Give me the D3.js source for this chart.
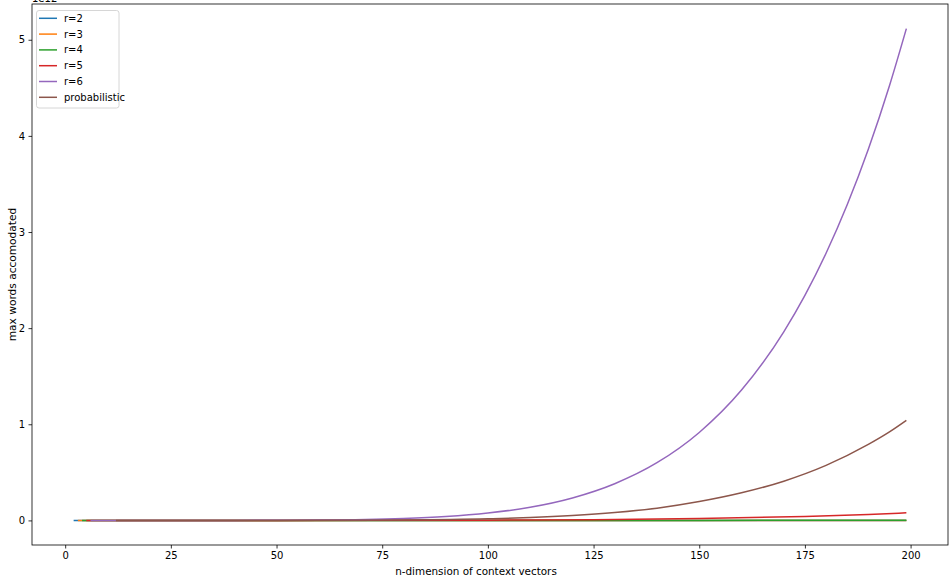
<!DOCTYPE html>
<html><head><meta charset="utf-8">
<script src="https://cdn.jsdelivr.net/npm/d3@7/dist/d3.min.js"></script>
<style>
html,body{margin:0;padding:0;background:#fff;}
svg{display:block;font-family:"DejaVu Sans",sans-serif;}
</style></head>
<body>
<svg id="chart" width="952" height="583"></svg>
<script>
// ---- data (values in units of 1e12) ----
const seriesNames = ["r=2", "r=3", "r=4", "r=5", "r=6", "probabilistic"];
const xR2 = [2, 50, 100, 150, 199];
const yR2 = [0.000000000004, 0.000000005, 0.00000002, 0.000000045, 0.000000079];
const xR3 = [3, 50, 100, 150, 199];
const yR3 = [0, 0.00000016, 0.0000013, 0.0000045, 0.0000103];
const xR4 = [4, 50, 100, 150, 199];
const yR4 = [0, 0.0000037, 0.000063, 0.00032, 0.00101];
const xR5 = [5, 25, 50, 75, 100, 125, 150, 175, 190, 199];
const yR5 = [0, 0.0000017, 0.000068, 0.00055, 0.0024, 0.0075, 0.0189, 0.0413, 0.0626, 0.0791];
const xR6 = [6, 20, 40, 60, 80, 90, 100, 110, 120, 130, 140, 150, 160, 170, 175, 180, 185, 190, 195, 199];
const yR6 = [0, 0.0000025, 0.000246, 0.0032, 0.0192, 0.0398, 0.0763, 0.137, 0.234, 0.382, 0.600, 0.915, 1.356, 1.962, 2.341, 2.779, 3.283, 3.861, 4.522, 5.116];
const xProb = [12, 20, 40, 60, 80, 100, 110, 120, 130, 140, 150, 160, 170, 180, 190, 195, 199];
const yProb = [0, 0.0000012, 0.00007, 0.0008, 0.0044, 0.017, 0.030, 0.051, 0.082, 0.127, 0.196, 0.287, 0.408, 0.572, 0.790, 0.920, 1.04];
const xTicks = [0, 25, 50, 75, 100, 125, 150, 175, 200];
const yTicks = [0, 1, 2, 3, 4, 5];
const colors = ["#1f77b4", "#ff7f0e", "#2ca02c", "#d62728", "#9467bd", "#8c564b"];

const xs = [xR2, xR3, xR4, xR5, xR6, xProb];
const ys = [yR2, yR3, yR4, yR5, yR6, yProb];

// ---- layout ----
const L = 32, R = 948, T = 4, B = 545;
const svg = d3.select("#chart");
const x = d3.scaleLinear().domain([-7.85, 208.85]).range([L, R]);
const y = d3.scaleLinear().domain([-0.2558, 5.372]).range([B, T]);

// lines
const line = d3.line().x(d => x(d[0])).y(d => y(d[1])).curve(d3.curveMonotoneX);
const gLines = svg.append("g");
seriesNames.forEach((name, i) => {
  const pts = xs[i].map((v, j) => [v, ys[i][j]]);
  gLines.append("path").attr("d", line(pts)).attr("fill", "none")
    .attr("stroke", colors[i]).attr("stroke-width", 1.5).attr("stroke-linejoin", "round");
});

// axes
const xAxis = d3.axisBottom(x).tickValues(xTicks).tickSize(3.5).tickPadding(3.5).tickFormat(d3.format("d"));
const yAxis = d3.axisLeft(y).tickValues(yTicks).tickSize(3.5).tickPadding(3.5).tickFormat(d3.format("d"));
const gx = svg.append("g").attr("transform", `translate(0,${B})`).call(xAxis);
const gy = svg.append("g").attr("transform", `translate(${L},0)`).call(yAxis);
[gx, gy].forEach(g => {
  g.select(".domain").remove();
  g.selectAll("line").attr("stroke", "#000").attr("stroke-width", 0.8);
  g.selectAll("text").attr("font-size", 10).attr("fill", "#000").attr("font-family", "DejaVu Sans");
});

// spines
svg.append("rect").attr("x", L).attr("y", T).attr("width", R - L).attr("height", B - T)
  .attr("fill", "none").attr("stroke", "#000").attr("stroke-width", 0.8);

// offset text (partly cut off at the top, as in the reference)
svg.append("text").attr("x", L).attr("y", 2).attr("font-size", 10).text("1e12");

// axis labels
svg.append("text").attr("x", 476).attr("y", 575).attr("text-anchor", "middle")
  .attr("font-size", 10.4).text("n-dimension of context vectors");
svg.append("text").attr("transform", `translate(16,${(T + B) / 2}) rotate(-90)`)
  .attr("text-anchor", "middle").attr("font-size", 10.6).text("max words accomodated");

// legend
const lg = svg.append("g");
lg.append("rect").attr("x", 36.5).attr("y", 10.5).attr("width", 82.5).attr("height", 97.5)
  .attr("rx", 2.5).attr("fill", "#fff").attr("fill-opacity", 0.8)
  .attr("stroke", "#cccccc").attr("stroke-width", 0.8);
seriesNames.forEach((name, i) => {
  const yy = 18.3 + i * 15.8;
  lg.append("line").attr("x1", 39).attr("x2", 57).attr("y1", yy).attr("y2", yy)
    .attr("stroke", colors[i]).attr("stroke-width", 1.5);
  lg.append("text").attr("x", 64).attr("y", yy + 3.5).attr("font-size", 10).text(name);
});
</script>
</body></html>
